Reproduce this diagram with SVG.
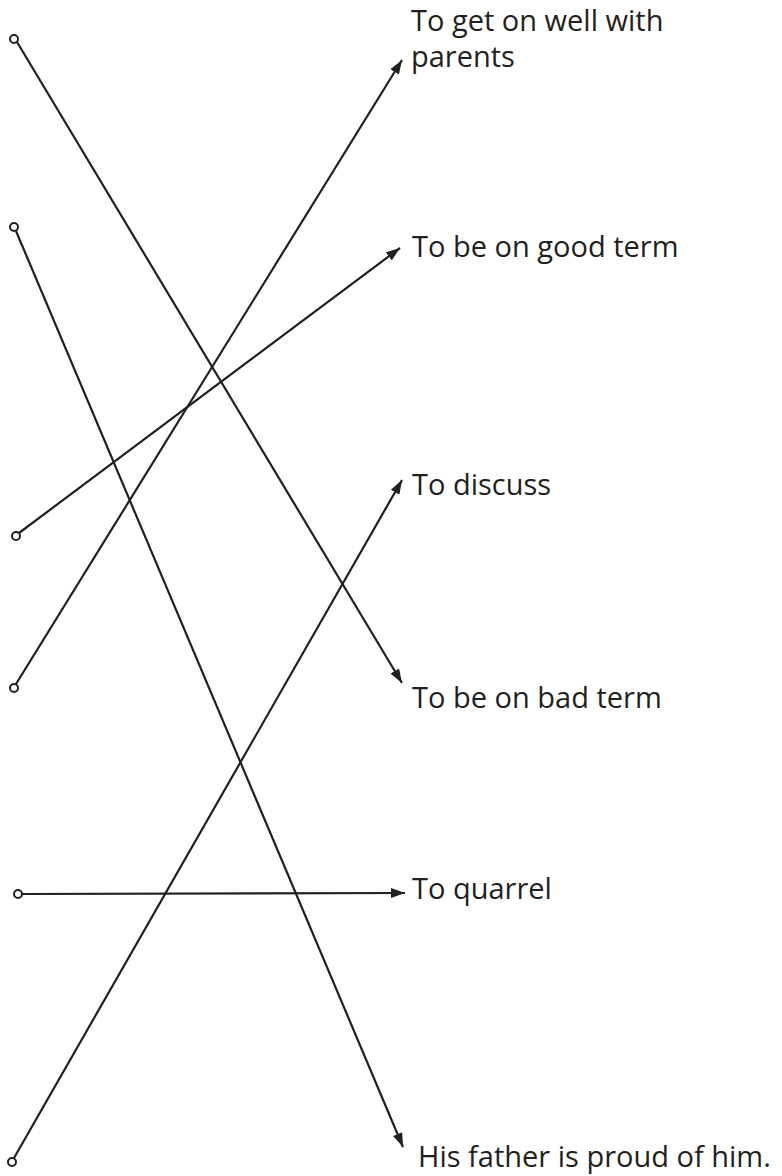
<svg xmlns="http://www.w3.org/2000/svg" width="782" height="1176" viewBox="0 0 782 1176">
<defs>
<marker id="ah" viewBox="0 0 14 10" refX="14" refY="5" markerWidth="14" markerHeight="10" markerUnits="userSpaceOnUse" orient="auto"><path d="M0,0 L14,5 L0,10 Z" fill="#231f20"/></marker>
</defs>
<style>
.c{fill:none;stroke:#231f20;stroke-width:2;}
.e{stroke:#231f20;stroke-width:2.2;marker-end:url(#ah);fill:none;}
.t{font-family:"Open Sans",sans-serif;font-size:29px;fill:#231f20;}
</style>
<rect width="782" height="1176" fill="#fff"/>
<g id="connectors">
<line class="e" x1="17" y1="42" x2="402" y2="683"/>
<line class="e" x1="16" y1="231" x2="403" y2="1147"/>
<line class="e" x1="19" y1="533" x2="400" y2="248"/>
<line class="e" x1="16" y1="684" x2="402" y2="60"/>
<line class="e" x1="22" y1="894" x2="405" y2="893"/>
<line class="e" x1="14" y1="1158" x2="402" y2="480"/>
</g>
<g id="n1"><circle class="c" cx="14" cy="39" r="4"/></g>
<g id="n2"><circle class="c" cx="14" cy="227" r="4"/></g>
<g id="n3"><circle class="c" cx="16" cy="536" r="4"/></g>
<g id="n4"><circle class="c" cx="14" cy="688" r="4"/></g>
<g id="n5"><circle class="c" cx="18" cy="894" r="4"/></g>
<g id="n6"><circle class="c" cx="12" cy="1162" r="4"/></g>
<g id="l1"><text class="t" x="411" y="31">To get on well with</text><text class="t" x="411" y="67">parents</text></g>
<g id="l2"><text class="t" x="412" y="257">To be on good term</text></g>
<g id="l3"><text class="t" x="412" y="495">To discuss</text></g>
<g id="l4"><text class="t" x="412" y="708">To be on bad term</text></g>
<g id="l5"><text class="t" x="412" y="899">To quarrel</text></g>
<g id="l6"><text class="t" x="418" y="1167">His father is proud of him.</text></g>
</svg>
